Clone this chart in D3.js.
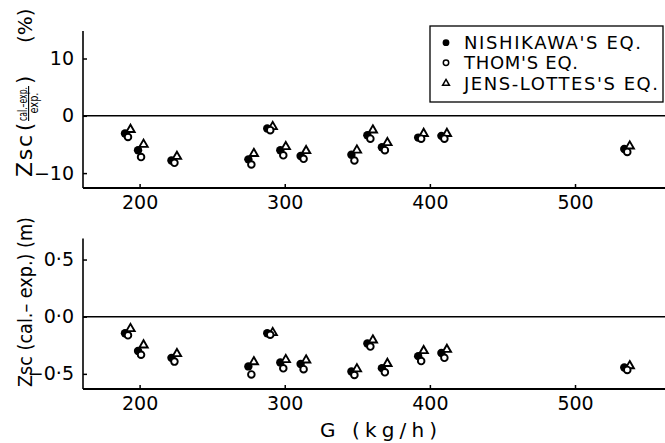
<!DOCTYPE html>
<html>
<head>
<meta charset="utf-8">
<script src="https://cdn.jsdelivr.net/npm/d3@7"></script>
<style>
  html, body { margin: 0; padding: 0; background: #fff; }
  svg { display: block; }
  text { font-family: "DejaVu Sans", sans-serif; fill: #000; }
</style>
</head>
<body>
<script>
// Mass flow rate G (kg/h) of each test run
const G = [192, 201, 224, 277, 290, 299, 313, 348, 359, 369, 394, 410, 536];

// Relative error of Zsc, (cal. - exp.) / exp. in %
const pctNishikawa = [-3.1, -6.0, -7.8, -7.6, -2.2, -6.0, -7.0, -6.8, -3.4, -5.5, -3.8, -3.5, -5.8];
const pctThom      = [-3.7, -7.2, -8.2, -8.5, -2.5, -6.9, -7.5, -7.8, -4.0, -6.0, -4.0, -4.0, -6.3];
const pctJens      = [-2.4, -5.0, -7.1, -6.6, -1.9, -5.4, -6.1, -6.0, -2.5, -4.7, -3.1, -3.1, -5.3];

// Absolute error of Zsc, cal. - exp. in m
const absNishikawa = [-0.145, -0.300, -0.360, -0.435, -0.145, -0.400, -0.414, -0.480, -0.235, -0.450, -0.345, -0.317, -0.445];
const absThom      = [-0.163, -0.333, -0.393, -0.505, -0.158, -0.452, -0.459, -0.510, -0.261, -0.487, -0.388, -0.360, -0.466];
const absJens      = [-0.105, -0.248, -0.324, -0.395, -0.140, -0.376, -0.380, -0.457, -0.205, -0.410, -0.298, -0.287, -0.430];

// Tick values and labels
const xTicks = [200, 300, 400, 500];
const pctTicks = [-10, 0, 10];
const pctTickLabels = ["\u221210", "0", "10"];
const absTicks = [-0.5, 0, 0.5];
const absTickLabels = ["\u22120\u00B75", "0\u00B70", "0\u00B75"];

const legendLabels = ["NISHIKAWA'S EQ.", "THOM'S EQ.", "JENS-LOTTES'S EQ."];

const W = 665, H = 443;
const svg = d3.select("body").append("svg").attr("width", W).attr("height", H);

const x = d3.scaleLinear().domain([161, 562]).range([83, 665]);
const yPct = d3.scaleLinear().domain([-12.6, 14.8]).range([188, 31]);
const yAbs = d3.scaleLinear().domain([-0.6325, 0.684]).range([389, 238.5]);

// small horizontal dodge so the three markers of a run stay visible
const dodge = { nish: -3, thom: 0, jens: 2.5 };

function panel(y, ticks, tickLabels, nish, thom, jens) {
  const g = svg.append("g");
  const [y0, y1] = y.range();

  // x axis with inward ticks
  const ax = g.append("g").attr("transform", `translate(0,${y0})`)
    .call(d3.axisBottom(x).tickValues(xTicks).tickFormat(d3.format("d"))
      .tickSize(-4).tickSizeOuter(0).tickPadding(8));
  ax.select(".domain").remove();
  ax.selectAll(".tick line").attr("stroke", "#000").attr("stroke-width", 1.5);
  ax.selectAll("text").attr("font-family", "DejaVu Sans, sans-serif").attr("font-size", 19);
  g.append("line").attr("x1", x.range()[0]).attr("x2", W).attr("y1", y0).attr("y2", y0)
    .attr("stroke", "#000").attr("stroke-width", 2);

  // y axis with inward ticks
  const ay = g.append("g").attr("transform", `translate(${x.range()[0]},0)`)
    .call(d3.axisLeft(y).tickValues(ticks).tickFormat((d, i) => tickLabels[i])
      .tickSize(-4).tickSizeOuter(0).tickPadding(9));
  ay.select(".domain").remove();
  ay.selectAll(".tick line").attr("stroke", "#000").attr("stroke-width", 1.5);
  ay.selectAll("text").attr("font-family", "DejaVu Sans, sans-serif").attr("font-size", 19);
  g.append("line").attr("x1", x.range()[0]).attr("x2", x.range()[0]).attr("y1", y1).attr("y2", y0)
    .attr("stroke", "#000").attr("stroke-width", 1.6);

  // zero reference line
  g.append("line").attr("x1", x.range()[0]).attr("x2", W).attr("y1", y(0)).attr("y2", y(0))
    .attr("stroke", "#000").attr("stroke-width", 1.4);

  // Nishikawa: filled circles
  g.append("g").selectAll("circle").data(nish).join("circle")
    .attr("cx", (d, i) => x(G[i]) + dodge.nish).attr("cy", d => y(d))
    .attr("r", 4.2).attr("fill", "#000");
  // Jens-Lottes: open triangles
  g.append("g").selectAll("path").data(jens).join("path")
    .attr("transform", (d, i) => `translate(${x(G[i]) + dodge.jens},${y(d)})`)
    .attr("d", d3.symbol(d3.symbolTriangle, 30)())
    .attr("fill", "#fff").attr("stroke", "#000").attr("stroke-width", 1.9);
  // Thom: open circles
  g.append("g").selectAll("circle").data(thom).join("circle")
    .attr("cx", (d, i) => x(G[i]) + dodge.thom).attr("cy", d => y(d))
    .attr("r", 3.3).attr("fill", "#fff").attr("stroke", "#000").attr("stroke-width", 1.9);
}

panel(yPct, pctTicks, pctTickLabels, pctNishikawa, pctThom, pctJens);
panel(yAbs, absTicks, absTickLabels, absNishikawa, absThom, absJens);

// vertical text helper: baseline at page x = bx, text starts at page y = by and runs upward
function vtext(bx, by, str, size, anchor) {
  return svg.append("text")
    .attr("transform", `translate(${bx},${by}) rotate(-90)`)
    .attr("font-size", size)
    .attr("text-anchor", anchor || "start")
    .text(str);
}

// y label of the upper panel: Zsc ((cal.-exp.)/exp.) (%)
vtext(32, 177, "Zsc", 22).attr("textLength", 42).attr("lengthAdjust", "spacing");
vtext(32, 131, "(", 21);
vtext(26.7, 104, "cal.\u2013exp.", 12, "middle")
  .attr("textLength", 34).attr("lengthAdjust", "spacingAndGlyphs");
svg.append("line").attr("x1", 28.6).attr("x2", 28.6).attr("y1", 121).attr("y2", 86)
  .attr("stroke", "#000").attr("stroke-width", 1.1);
vtext(37.6, 103, "exp.", 12, "middle")
  .attr("textLength", 21).attr("lengthAdjust", "spacingAndGlyphs");
vtext(32, 84, ")", 21);
vtext(32, 43, "(%)", 20);

// y label of the lower panel
vtext(32, 387, "Zsc (cal.\u2013 exp.) (m)", 20)
  .attr("textLength", 170).attr("lengthAdjust", "spacingAndGlyphs");

// x label
svg.append("text").attr("x", 320).attr("y", 437).attr("font-size", 20)
  .attr("textLength", 117).attr("lengthAdjust", "spacing").text("G (kg/h)");

// legend
const leg = svg.append("g");
leg.append("rect").attr("x", 430).attr("y", 26).attr("width", 233).attr("height", 76)
  .attr("fill", "#fff").attr("stroke", "#000").attr("stroke-width", 1.3);
const rowY = [42.7, 62.7, 83.3];
const legLen = [177, 114, 194];
leg.append("circle").attr("cx", 446).attr("cy", rowY[0]).attr("r", 3.4).attr("fill", "#000");
leg.append("circle").attr("cx", 446).attr("cy", rowY[1]).attr("r", 2.7)
  .attr("fill", "#fff").attr("stroke", "#000").attr("stroke-width", 1.5);
leg.append("path").attr("transform", `translate(446,${rowY[2]})`)
  .attr("d", d3.symbol(d3.symbolTriangle, 20)())
  .attr("fill", "#fff").attr("stroke", "#000").attr("stroke-width", 1.5);
leg.selectAll("text.lg").data(legendLabels).join("text").attr("class", "lg")
  .attr("x", 464).attr("y", (d, i) => rowY[i] + 6.6).attr("font-size", 18)
  .attr("textLength", (d, i) => legLen[i]).attr("lengthAdjust", "spacing")
  .text(d => d);
</script>
</body>
</html>
